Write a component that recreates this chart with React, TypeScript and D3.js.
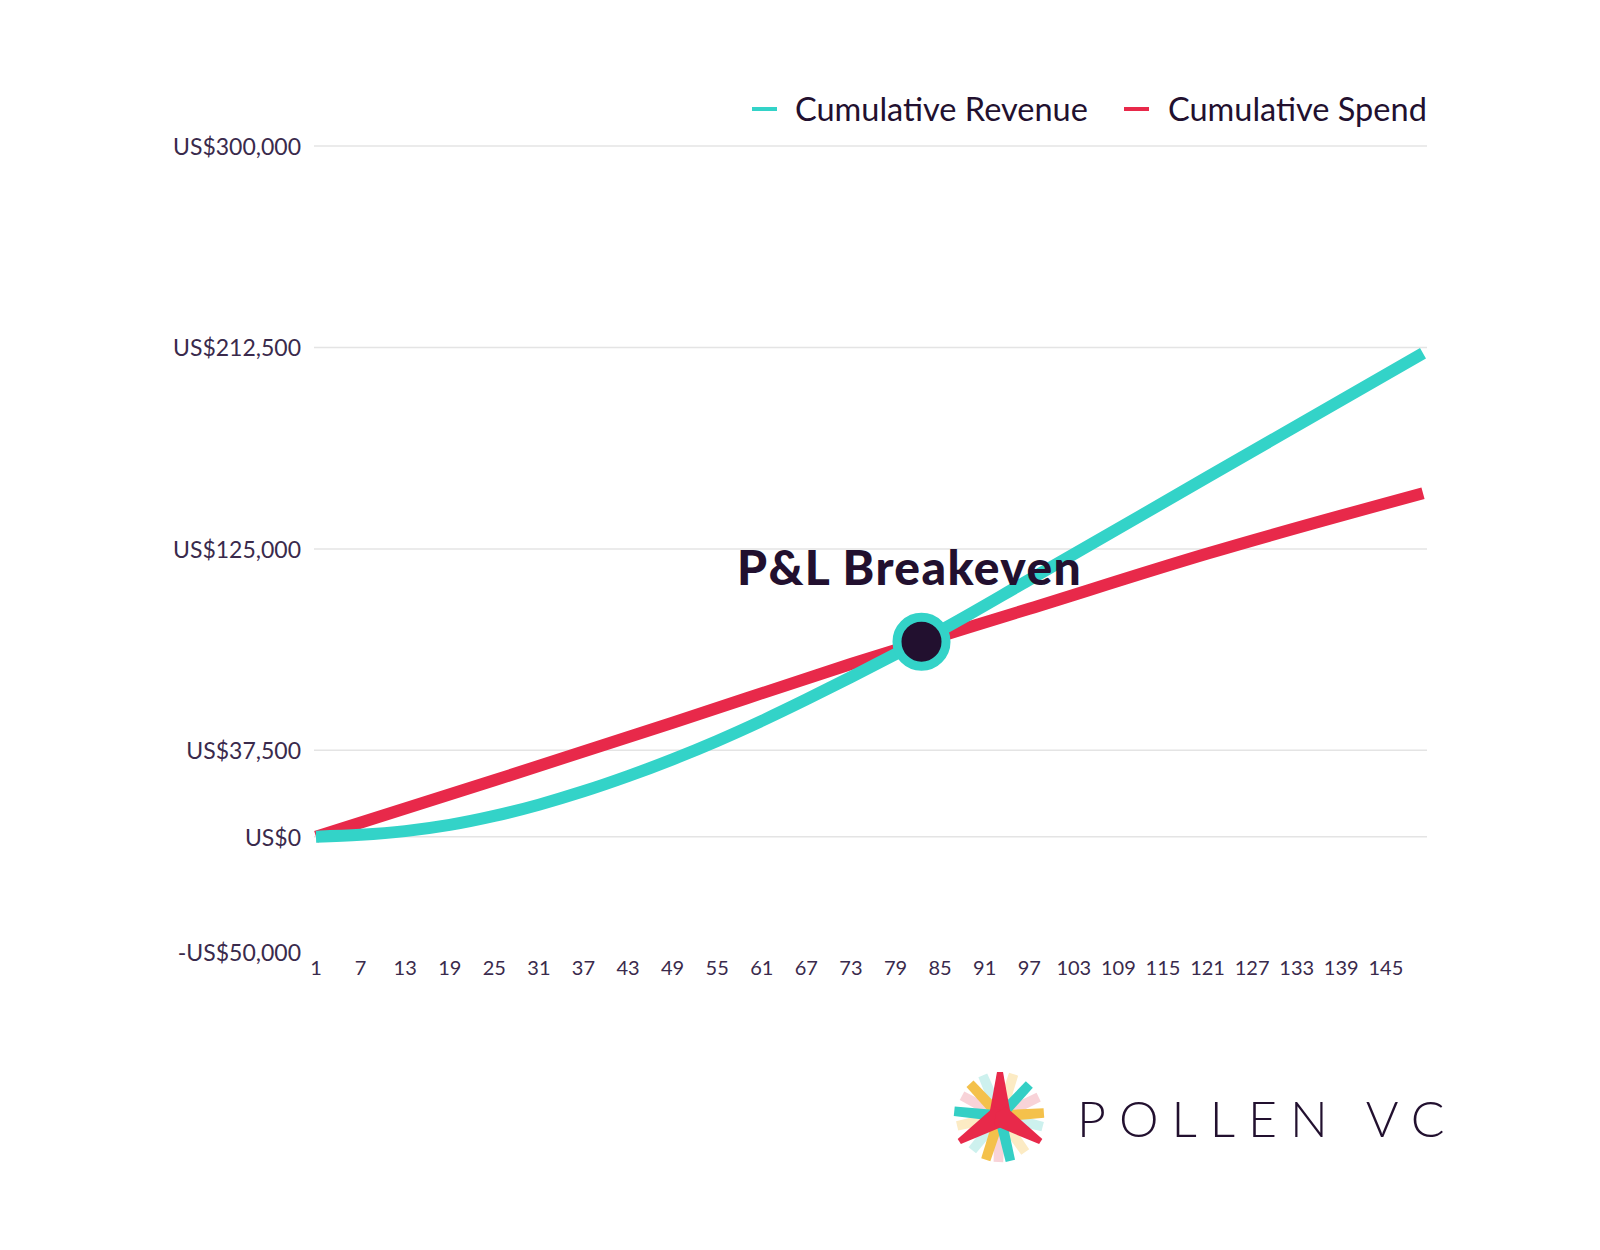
import React from 'react';
import * as d3 from 'd3';

// ---- Data ----
const revenueDays = [1, 7, 13, 19, 25, 31, 37, 43, 49, 55, 61, 67, 73, 79, 85, 97, 121, 150];
const revenueValues = [0, 800, 2400, 5100, 9000, 13900, 19700, 26300, 33600, 41600, 50300, 59600, 69300, 79300, 89500, 111600, 156200, 210000];
const spendDays = [1, 25, 49, 73, 97, 121, 150];
const spendValues = [0, 24500, 49500, 75000, 99000, 123000, 149200];
const breakevenDay = [82.5];
const breakevenValue = [84700];

const yTickValues = [300000, 212500, 125000, 37500, 0, -50000];
const yTickLabels = ['US$300,000', 'US$212,500', 'US$125,000', 'US$37,500', 'US$0', '-US$50,000'];
const xTickValues = [1, 7, 13, 19, 25, 31, 37, 43, 49, 55, 61, 67, 73, 79, 85, 91, 97, 103, 109, 115, 121, 127, 133, 139, 145];
const seriesNames = ['Cumulative Revenue', 'Cumulative Spend'];

const CYAN = '#33d3c8';
const RED = '#e8294a';
const DARK = '#22102f';
const LABEL = '#3a2a4c';
const FONT = 'Lato, "Noto Sans", sans-serif';

// logo arms: [angleDeg, length, color, kind]
const logoArms: [number, number, string, string][] = [
  [-72, 44, '#fcebc4', 's'], [167, 44, '#fcebc4', 's'], [55, 44, '#fcebc4', 's'],
  [247, 44, '#cdf1ee', 's'], [129, 44, '#cdf1ee', 's'], [14, 44, '#cdf1ee', 's'],
  [208, 43, '#f8d3d8', 's'], [-26, 43, '#f8d3d8', 's'], [92, 46, '#f8d3d8', 's'],
  [227, 44, '#f4c14b', 's'], [-4, 44, '#f4c14b', 's'], [108, 46, '#f4c14b', 's'],
  [186, 46, '#34cfc5', 's'], [-47, 43, '#34cfc5', 's'], [77, 46, '#34cfc5', 's'],
  [-90, 44, '#e8294a', 'r'], [148, 48, '#e8294a', 'r'], [32, 48, '#e8294a', 'r'],
];

function armPath(angle: number, len: number, kind: string) {
  const a = (angle * Math.PI) / 180;
  const c = Math.cos(a), s = Math.sin(a);
  const pts: [number, number][] =
    kind === 'r'
      ? [[0, -11], [len, -3], [len, 3], [0, 11], [-5, 0]]
      : [[2, -5.5], [len, -4.8], [len, 4.8], [2, 5.5]];
  return (
    'M' +
    pts.map(([x, y]) => `${(x * c - y * s).toFixed(2)},${(x * s + y * c).toFixed(2)}`).join('L') +
    'Z'
  );
}

export default function App() {
  const W = 1600, H = 1250;
  const x = d3.scaleLinear().domain([1, 150]).range([316, 1423]);
  const y = d3.scaleLinear().domain([-50000, 300000]).range([951.8, 146]);

  const line = d3
    .line<[number, number]>()
    .x((d) => x(d[0]))
    .y((d) => y(d[1]))
    .curve(d3.curveMonotoneX);

  const revPath = line(revenueDays.map((d, i) => [d, revenueValues[i]]) as [number, number][]) || '';
  const spendPath = line(spendDays.map((d, i) => [d, spendValues[i]]) as [number, number][]) || '';

  const gridTicks = yTickValues.filter((v) => v !== -50000);

  return (
    <svg
      width={W}
      height={H}
      viewBox={`0 0 ${W} ${H}`}
      style={{ position: 'absolute', left: 0, top: 0, background: '#fff' }}
      fontFamily={FONT}
    >
      <rect x={0} y={0} width={W} height={H} fill="#fff" />
      {/* grid */}
      {gridTicks.map((v) => (
        <line key={'g' + v} x1={314} x2={1427} y1={y(v)} y2={y(v)} stroke="#e4e4e4" strokeWidth={1.5} />
      ))}
      {/* y labels */}
      {yTickValues.map((v, i) => (
        <text
          key={'y' + v}
          x={301}
          y={y(v)}
          textAnchor="end"
          dominantBaseline="central"
          fontSize={23}
          fill={LABEL}
        >
          {yTickLabels[i]}
        </text>
      ))}
      {/* x labels */}
      {xTickValues.map((v) => (
        <text key={'x' + v} x={x(v)} y={967} textAnchor="middle" dominantBaseline="central" fontSize={20} fill={LABEL}>
          {v}
        </text>
      ))}
      {/* lines */}
      <path d={spendPath} fill="none" stroke={RED} strokeWidth={12} strokeLinecap="butt" />
      <path d={revPath} fill="none" stroke={CYAN} strokeWidth={12} strokeLinecap="butt" />
      {/* breakeven */}
      <circle cx={x(breakevenDay[0])} cy={y(breakevenValue[0])} r={24.5} fill={DARK} stroke={CYAN} strokeWidth={9} />
      <text x={737} y={566} dominantBaseline="central" fontSize={48} fontWeight={900} letterSpacing={1.4} fill={DARK}>
        P&amp;L Breakeven
      </text>
      {/* legend */}
      <line x1={752} x2={777} y1={109} y2={109} stroke={CYAN} strokeWidth={4} />
      <text x={795} y={108} dominantBaseline="central" fontSize={32.5} fill={DARK}>
        {seriesNames[0]}
      </text>
      <line x1={1124} x2={1149} y1={109} y2={109} stroke={RED} strokeWidth={4} />
      <text x={1168} y={108} dominantBaseline="central" fontSize={32.5} fill={DARK}>
        {seriesNames[1]}
      </text>
      {/* logo */}
      <g transform="translate(1000,1116)">
        {logoArms.map(([a, l, col, k], i) => (
          <path key={'arm' + i} d={armPath(a, l, k)} fill={col} />
        ))}
      </g>
      <text x={1077} y={1118} dominantBaseline="central" fontSize={50} fontWeight={300} letterSpacing={13} fill={DARK}>
        POLLEN VC
      </text>
    </svg>
  );
}
